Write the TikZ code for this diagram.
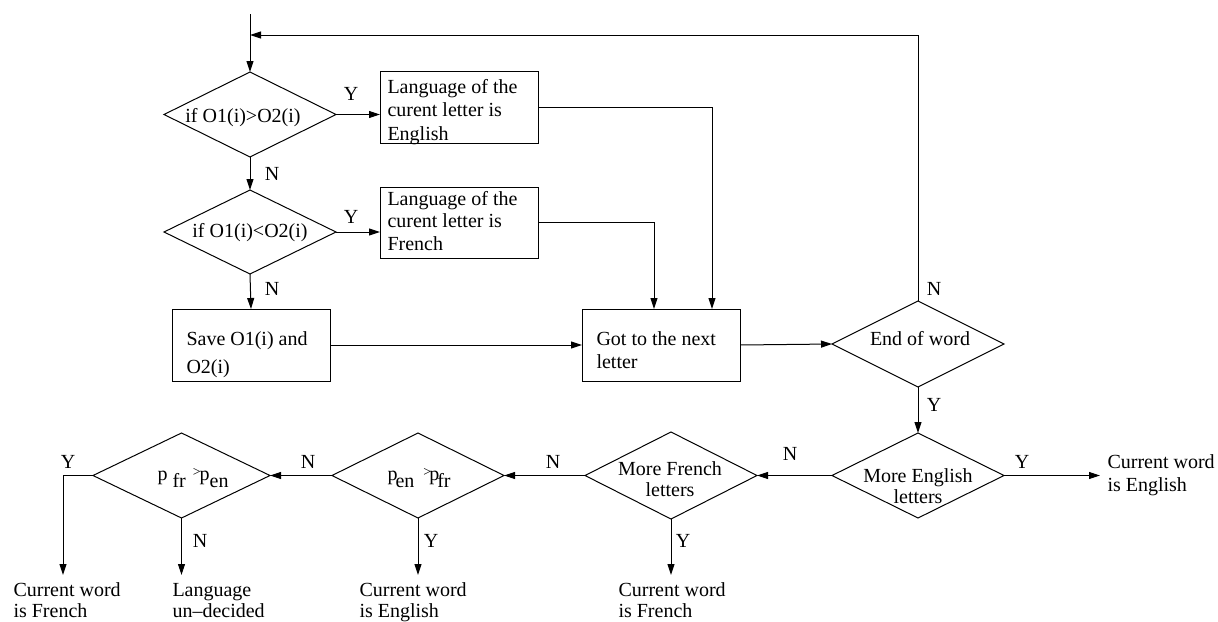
\documentclass[tikz,border=0pt]{standalone}
\usepackage{fontspec}
\setmainfont{Liberation Serif}
\usetikzlibrary{shapes.geometric,arrows.meta}

\begin{document}
\begin{tikzpicture}[x=0.5pt,y=-0.5pt,
  line width=0.5pt,
  arr/.style={-{Triangle[length=5.5pt,width=3.5pt]}},
  dec/.style={draw,diamond,inner sep=0pt,outer sep=0pt,minimum width=86pt,minimum height=42.5pt},
  box/.style={draw,rectangle,inner sep=0pt,outer sep=0pt,minimum width=79pt,minimum height=36pt},
  txt/.style={inner sep=0pt,font=\fontsize{10}{11.75}\selectfont,align=left,anchor=base west},
  ctxt/.style={inner sep=0pt,font=\fontsize{10}{10.5}\selectfont,align=center,anchor=base},
  lbl/.style={inner sep=0pt,font=\fontsize{10}{12}\selectfont,anchor=base},
]
\useasboundingbox (0,0) rectangle (1218,621);

% decision diamonds
\node[dec] (d1) at (250,114.5) {};
\node[dec,minimum height=42pt] (d2) at (250,232) {};
\node[dec,minimum height=43pt] (eow) at (918,344) {};
\node[dec] (me) at (918,475.5) {};
\node[dec,minimum height=43.5pt] (mf) at (671,475.5) {};
\node[dec] (pen) at (418,475.5) {};
\node[dec,minimum width=88.5pt] (pfr) at (181.5,475.5) {};

% process boxes
\node[box] (b1) at (459,107) {};
\node[box,minimum height=35.5pt] (b2) at (459,222.5) {};
\node[box] (b3) at (251,345) {};
\node[box] (b4) at (661,345) {};

% box texts (anchored at the baseline of the last line)
\node[txt] (b1t) at (387,140) {Language of the\\curent letter is\\English};
\node[txt,font=\fontsize{10}{11.25}\selectfont] (b2t) at (387,250) {Language of the\\curent letter is\\French};
\node[txt,font=\fontsize{10}{14}\selectfont] (b3t) at (186,373) {Save O1(i) and\\O2(i)};
\node[txt,font=\fontsize{10}{11.5}\selectfont] (b4t) at (596,368) {Got to the next\\letter};

% diamond texts
\node[lbl] (d1t) at (243,122) {if O1(i)>O2(i)};
\node[lbl] (d2t) at (250,237) {if O1(i)<O2(i)};
\node[lbl] (eowt) at (920,345) {End of word};
\node[ctxt] (mft) at (670,496) {More French\\letters};
\node[ctxt] (met) at (918,503) {More English\\letters};
\node[inner sep=0pt,anchor=base west,font=\fontsize{10}{12}\selectfont] (pfrt) at (157,480)
  {p\kern2.5pt\raisebox{-3.5pt}{fr}\kern3.5pt\raisebox{2pt}{\fontsize{7}{8}\selectfont >}\kern-0.5pt p\raisebox{-3.5pt}{en}};
\node[inner sep=0pt,anchor=base west,font=\fontsize{10}{12}\selectfont] (pent) at (387,480)
  {p\kern-1pt\raisebox{-3.5pt}{en}\kern4.5pt\raisebox{2pt}{\fontsize{7}{8}\selectfont >}\kern-1pt p\kern-1pt\raisebox{-3.5pt}{fr}};

% outcomes
\node[txt,font=\fontsize{10}{11.5}\selectfont] (oen1) at (1107,491) {Current word\\is English};
\node[txt,font=\fontsize{10}{10.25}\selectfont] (ofr2) at (618,617) {Current word\\is French};
\node[txt,font=\fontsize{10}{10.25}\selectfont] (oen2) at (359,617) {Current word\\is English};
\node[txt,font=\fontsize{10}{10.25}\selectfont] (oun) at (172,617) {Language\\un--decided};
\node[txt,font=\fontsize{10}{10.25}\selectfont] (ofr1) at (13,617) {Current word\\is French};

% helper points
\coordinate (start) at (250,14);
\coordinate (loop) at (250,35);
\coordinate (rowend) at (0,575);
\coordinate (enout) at (1100,475.5);
\coordinate (pfrturn) at (63,475.5);

% connectors
\draw[arr] (start) -- (d1.north);
\draw[arr] (eow.north) |- (loop);
\draw[arr] (d1.east) -- (d1.east -| b1.west);
\draw[arr] (d2.east) -- (d2.east -| b2.west);
\draw[arr] (d1.south) -- (d2.north);
\draw[arr] (d2.south) -- (b3.north);
\draw[arr] (b1.east) -| ([xshift=25.5pt]b4.north);
\draw[arr] (b2.east) -| ([xshift=-3.5pt]b4.north);
\draw[arr] (b3.east) -- (b4.west);
\draw[arr] (b4.east) -- (eow.west);
\draw[arr] (eow.south) -- (me.north);
\draw[arr] (me.east) -- (enout);
\draw[arr] (me.west) -- (mf.east);
\draw[arr] (mf.west) -- (pen.east);
\draw[arr] (pen.west) -- (pfr.east);
\draw[arr] (pfr.west) -- (pfrturn) -- (pfrturn |- rowend);
\draw[arr] (pfr.south) -- (pfr.south |- rowend);
\draw[arr] (pen.south) -- (pen.south |- rowend);
\draw[arr] (mf.south) -- (mf.south |- rowend);

% branch labels
\node[lbl] (y1) at (351,100) {Y};
\node[lbl] (n1) at (272,180) {N};
\node[lbl] (y2) at (351,223) {Y};
\node[lbl] (n2) at (272,295) {N};
\node[lbl] (n3) at (934,295) {N};
\node[lbl] (y3) at (934,411) {Y};
\node[lbl] (y4) at (1022,468) {Y};
\node[lbl] (n4) at (790,460) {N};
\node[lbl] (y5) at (683,547) {Y};
\node[lbl] (n5) at (553,468) {N};
\node[lbl] (y6) at (431,547) {Y};
\node[lbl] (n6) at (308,468) {N};
\node[lbl] (n7) at (200,547) {N};
\node[lbl] (y7) at (68,468) {Y};
\end{tikzpicture}
\end{document}
